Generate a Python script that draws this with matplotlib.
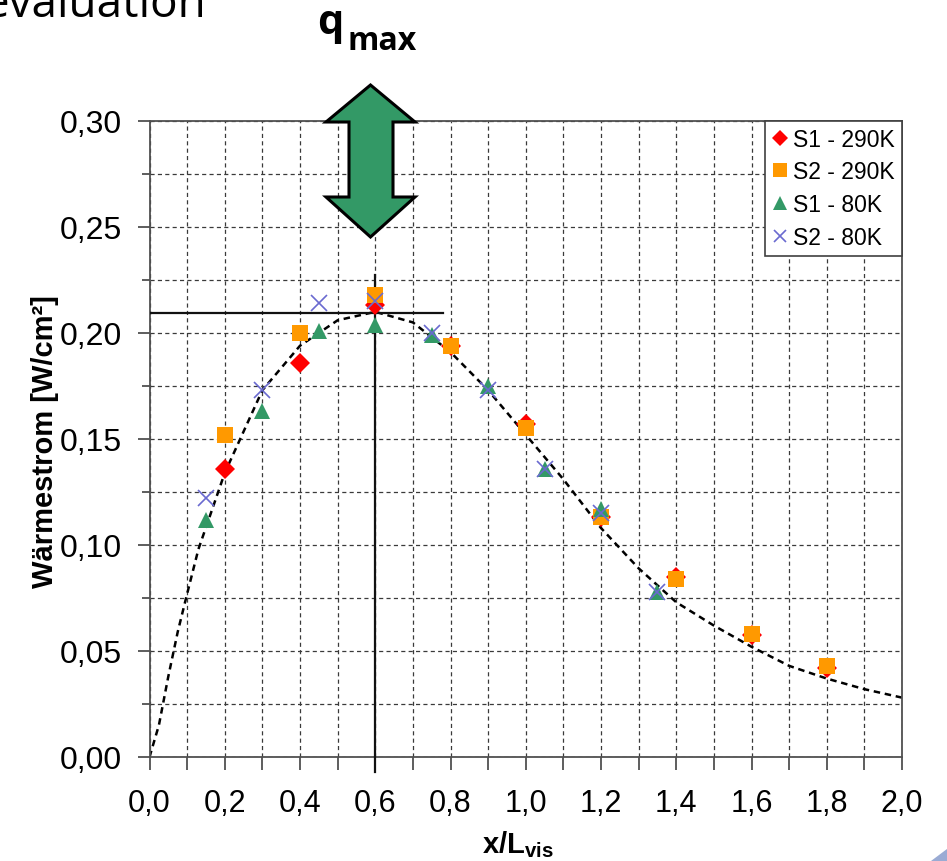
import matplotlib
matplotlib.use("Agg")
import matplotlib.pyplot as plt
from matplotlib.patches import Polygon
from matplotlib.ticker import MultipleLocator, FuncFormatter

plt.rcParams['font.family'] = ['Liberation Sans', 'DejaVu Sans']
plt.rcParams['mathtext.fontset'] = 'custom'
plt.rcParams['mathtext.rm'] = 'Liberation Sans'
plt.rcParams['mathtext.bf'] = 'Liberation Sans:bold'

# Measurements: heat flux vs. normalised position
s1_290_x = [0.2, 0.4, 0.6, 0.8, 1.0, 1.2, 1.4, 1.6, 1.8]
s1_290_y = [0.136, 0.186, 0.213, 0.194, 0.157, 0.113, 0.085, 0.0575, 0.042]

s2_290_x = [0.2, 0.4, 0.6, 0.8, 1.0, 1.2, 1.4, 1.6, 1.8]
s2_290_y = [0.152, 0.200, 0.218, 0.194, 0.155, 0.113, 0.084, 0.058, 0.043]

s1_80_x = [0.15, 0.3, 0.45, 0.6, 0.75, 0.9, 1.05, 1.2, 1.35]
s1_80_y = [0.112, 0.163, 0.201, 0.204, 0.199, 0.175, 0.136, 0.117, 0.078]

s2_80_x = [0.15, 0.3, 0.45, 0.6, 0.75, 0.9, 1.05, 1.2, 1.35]
s2_80_y = [0.122, 0.173, 0.214, 0.215, 0.200, 0.173, 0.136, 0.115, 0.078]

# Trend curve
trend_x = [0.0, 0.025, 0.05, 0.075, 0.1, 0.13, 0.2, 0.3, 0.4, 0.5, 0.6, 0.7,
           0.8, 0.9, 1.0, 1.1, 1.2, 1.3, 1.4, 1.5, 1.6, 1.7, 1.8, 1.9, 2.0]
trend_y = [0.0, 0.015, 0.038, 0.059, 0.077, 0.098, 0.134, 0.173, 0.194, 0.206,
           0.210, 0.205, 0.191, 0.173, 0.152, 0.131, 0.108, 0.089, 0.073, 0.062,
           0.052, 0.043, 0.037, 0.032, 0.028]

q_max = 0.2095
x_qmax = 0.6

labels = ['S1 - 290K', 'S2 - 290K', 'S1 - 80K', 'S2 - 80K']

W, H = 947, 862
fig = plt.figure(figsize=(W / 100, H / 100), dpi=100)
fig.patch.set_facecolor('white')

x0, x1, y0, y1 = 149.5, 902, 758, 122
ax = fig.add_axes([x0 / W, (H - y0) / H, (x1 - x0) / W, (y0 - y1) / H])
ax.set_xlim(0, 2.0)
ax.set_ylim(0, 0.30)

grid_kw = dict(color='#3a3a3a', linewidth=0.9, linestyle=(0, (3.3, 2.6)))
ax.xaxis.set_major_locator(MultipleLocator(0.2))
ax.xaxis.set_minor_locator(MultipleLocator(0.1))
ax.yaxis.set_major_locator(MultipleLocator(0.05))
ax.yaxis.set_minor_locator(MultipleLocator(0.025))
ax.grid(which='both', **grid_kw)
ax.set_axisbelow(True)

ax.xaxis.set_major_formatter(FuncFormatter(lambda v, p: f"{v:.1f}".replace('.', ',')))
ax.yaxis.set_major_formatter(FuncFormatter(lambda v, p: f"{v:.2f}".replace('.', ',')))

for sp in ax.spines.values():
    sp.set_color('#505050')
    sp.set_linewidth(1.3)

ax.tick_params(axis='x', which='both', direction='out', length=9, width=1.3,
               color='#505050', labelsize=22, pad=13)
ax.tick_params(axis='y', which='major', direction='out', length=9, width=1.3,
               color='#505050', labelsize=23, pad=11)
ax.tick_params(axis='y', which='minor', direction='out', length=6, width=1.3,
               color='#505050')

# Trend curve
ax.plot(trend_x, trend_y, color='black', linewidth=1.8,
        linestyle=(0, (2.6, 1.9)), zorder=2)

# q_max guide lines
ax.plot([x_qmax, x_qmax], [-0.007, 0.2275], color='#111111', linewidth=1.6,
        clip_on=False, zorder=3)
ax.plot([0.0, 0.779], [q_max, q_max], color='#111111', linewidth=1.6, zorder=3)

# Series
ax.plot(s1_290_x, s1_290_y, linestyle='none', marker='D', markersize=10,
        color='#ff0000', markeredgewidth=0, label=labels[0], zorder=4)
ax.plot(s2_290_x, s2_290_y, linestyle='none', marker='s', markersize=11.5,
        color='#ff9900', markeredgewidth=0, label=labels[1], zorder=5)
ax.plot(s1_80_x, s1_80_y, linestyle='none', marker='^', markersize=12,
        color='#339966', markeredgewidth=0, label=labels[2], zorder=6)
ax.plot(s2_80_x, s2_80_y, linestyle='none', marker='x', markersize=11,
        color='#6a6ad0', markeredgewidth=1.2, label=labels[3], zorder=7)

leg = ax.legend(loc='upper right', bbox_to_anchor=(1.0, 1.0), borderaxespad=0,
                fontsize=16.5, frameon=True, fancybox=False, framealpha=1,
                edgecolor='#404040', handlelength=0.7, handletextpad=0.25,
                borderpad=0.3, labelspacing=0.42, markerscale=0.85)
leg.get_frame().set_linewidth(1.2)
leg.set_zorder(10)

# Axis labels
fig.text(45 / W, 1 - 442 / H, 'Wärmestrom [W/cm²]', rotation=90,
         ha='center', va='center', fontsize=21, fontweight='bold')
fig.text(518 / W, 1 - 845 / H, r'$\mathbf{x/L_{vis}}$', ha='center',
         va='center', fontsize=21)

# Heading fragments
fig.text(206 / W, 1 - 17 / H, 'evaluation', ha='right', va='baseline',
         fontsize=33, family='Open Sans')
fig.text(317 / W, 1 - 34 / H, 'q', ha='left', va='baseline', fontsize=30,
         fontweight='bold', family='Open Sans')
fig.text(347 / W, 1 - 50 / H, 'max', ha='left', va='baseline', fontsize=23,
         fontweight='bold', family='Open Sans')

# Double-headed arrow marking q_max
arrow_px = [(370.5, 86), (415, 123), (393, 123), (393, 198), (415, 198),
            (370.5, 238), (326, 198), (349, 198), (349, 123), (326, 123)]
arrow = Polygon([(px / W, 1 - py / H) for px, py in arrow_px], closed=True,
                facecolor='#339966', edgecolor='black', linewidth=2.2,
                joinstyle='miter', transform=fig.transFigure, zorder=20)
fig.add_artist(arrow)

# Corner decoration
corner = Polygon([(931 / W, 0), (1.0, 12 / H), (1.0, 0)], closed=True,
                 facecolor='#9aabd4', edgecolor='none',
                 transform=fig.transFigure, zorder=20)
fig.add_artist(corner)

fig.savefig('out.png', dpi=100, facecolor='white')
